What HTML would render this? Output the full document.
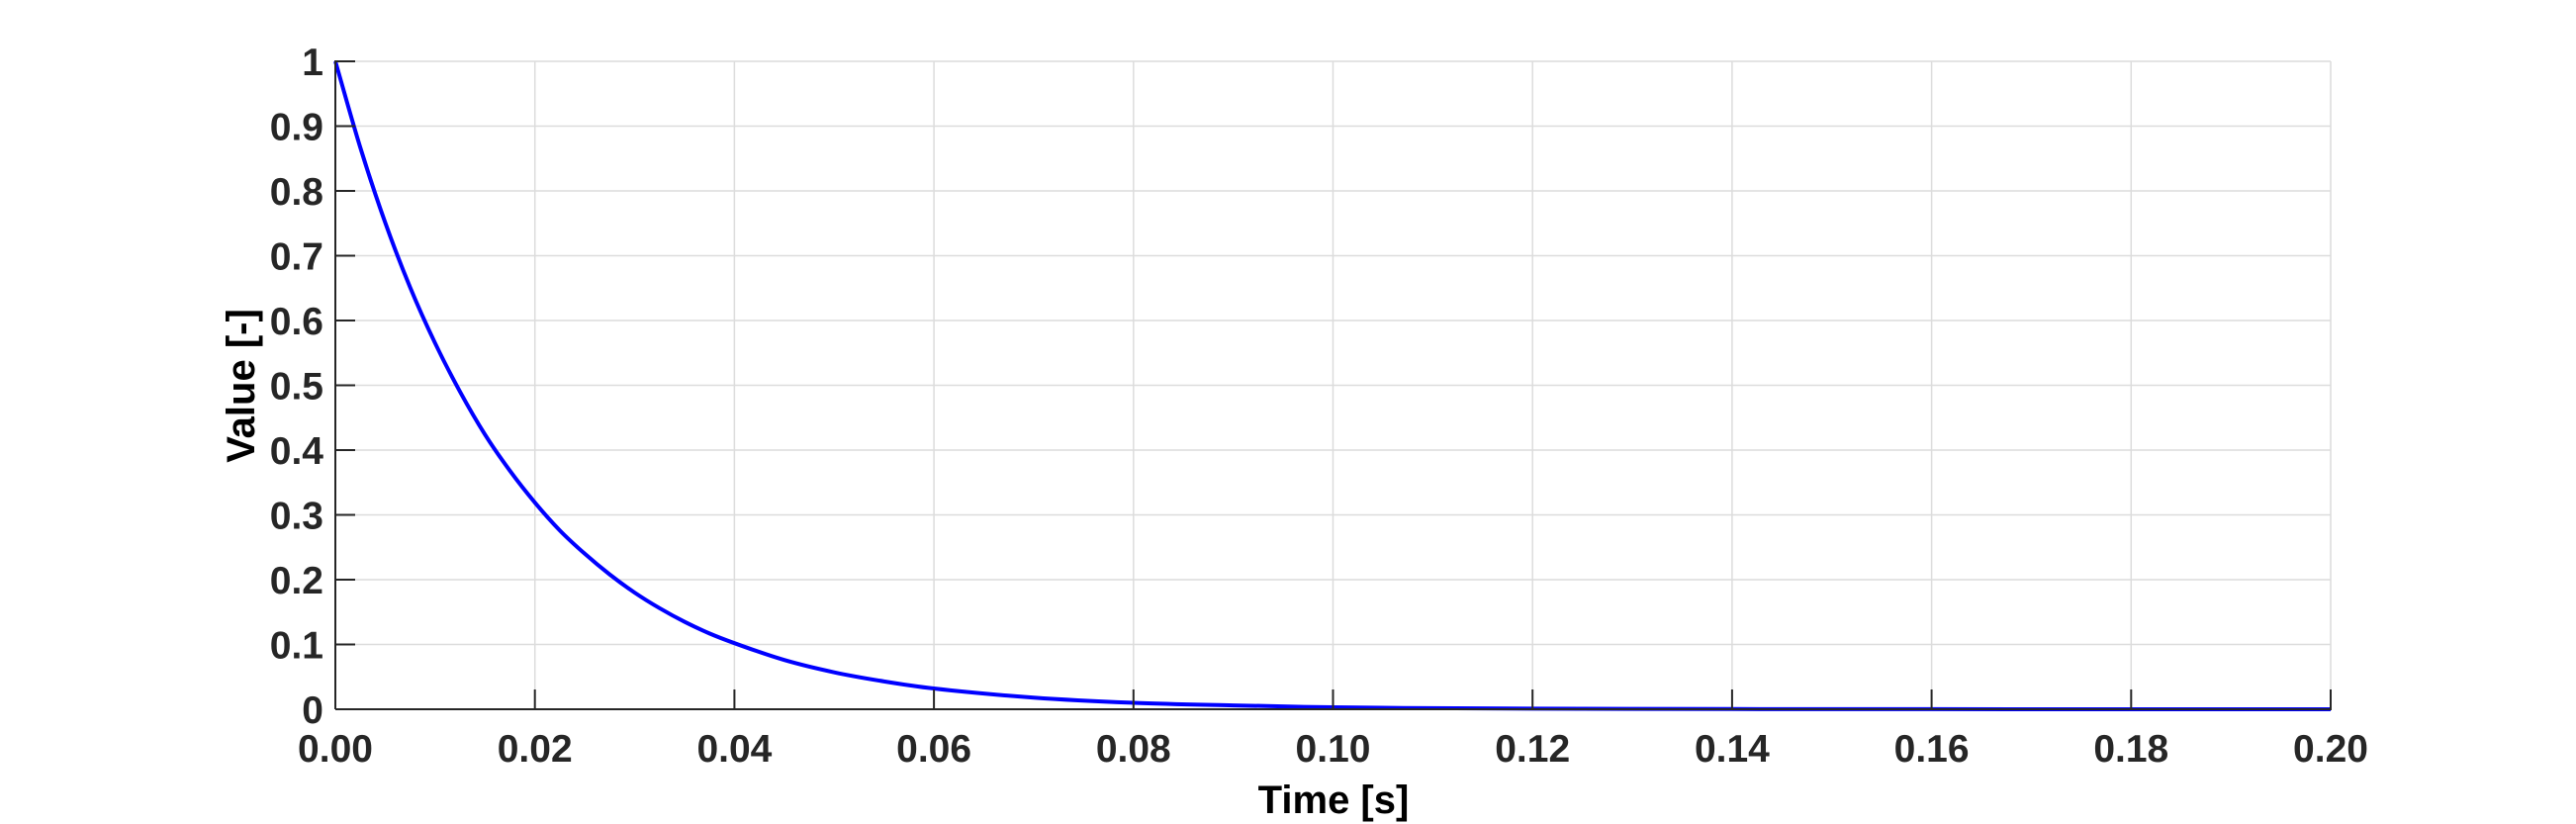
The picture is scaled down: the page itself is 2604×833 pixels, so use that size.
<!DOCTYPE html>
<html><head><meta charset="utf-8"><style>
html,body{margin:0;padding:0;background:#fff;}
svg{display:block;font-family:"Liberation Sans",Arial,sans-serif;}
</style></head><body>
<svg id="chart" width="2604" height="833" viewBox="0 0 2604 833" xmlns="http://www.w3.org/2000/svg"></svg>
<script>
const times=[0,0.0025,0.005,0.0075,0.01,0.0125,0.015,0.0175,0.02,0.0225,0.025,0.0275,0.03,0.0325,0.035,0.0375,0.04,0.045,0.05,0.055,0.06,0.07,0.08,0.09,0.10,0.12,0.14,0.16,0.18,0.20];
const values=[1,0.867,0.751,0.651,0.565,0.490,0.424,0.368,0.319,0.276,0.240,0.208,0.180,0.156,0.135,0.117,0.102,0.076,0.057,0.043,0.032,0.018,0.010,0.006,0.003,0.001,0.0003,0.0001,0,0];
const xTicks=[0,0.02,0.04,0.06,0.08,0.10,0.12,0.14,0.16,0.18,0.20];
const xTickLabels=["0.00","0.02","0.04","0.06","0.08","0.10","0.12","0.14","0.16","0.18","0.20"];
const yTicks=[0,0.1,0.2,0.3,0.4,0.5,0.6,0.7,0.8,0.9,1];
const yTickLabels=["0","0.1","0.2","0.3","0.4","0.5","0.6","0.7","0.8","0.9","1"];

const L=339,R=2356,T=62,B=717;
const xS=v=>L+(v-0)/(0.2-0)*(R-L);
const yS=v=>B-(v-0)/(1-0)*(B-T);
const NS="http://www.w3.org/2000/svg";
const svg=document.getElementById('chart');
function mk(tag,attrs,parent){const e=document.createElementNS(NS,tag);for(const k in attrs)e.setAttribute(k,attrs[k]);(parent||svg).appendChild(e);return e;}

const grid=mk('g',{});


xTicks.forEach(t=>{const l=mk('line',{x1:xS(t),x2:xS(t),y1:T,y2:B,stroke:'#dcdcdc','stroke-width':1.5},grid);

});
yTicks.forEach(t=>{const l=mk('line',{x1:L,x2:R,y1:yS(t),y2:yS(t),stroke:'#dcdcdc','stroke-width':1.5},grid);

});

// series: monotone cubic through data points
const px=times.map(xS), py=values.map(yS);
const n=px.length, m=[];
const sl=[];for(let i=0;i<n-1;i++)sl.push((py[i+1]-py[i])/(px[i+1]-px[i]));
m[0]=sl[0];m[n-1]=sl[n-2];
for(let i=1;i<n-1;i++){m[i]=(sl[i-1]*sl[i]<=0)?0:(sl[i-1]+sl[i])/2;}
let d='M'+px[0].toFixed(2)+' '+py[0].toFixed(2);
for(let i=0;i<n-1;i++){const h=(px[i+1]-px[i])/3;
d+=' C'+(px[i]+h).toFixed(2)+' '+(py[i]+m[i]*h).toFixed(2)+' '+(px[i+1]-h).toFixed(2)+' '+(py[i+1]-m[i+1]*h).toFixed(2)+' '+px[i+1].toFixed(2)+' '+py[i+1].toFixed(2);}
const path=mk('path',{d:d,fill:'none',stroke:'#0000ff','stroke-width':4,'stroke-linejoin':'round'});



// axes
const ax=mk('g',{stroke:'#262626','stroke-width':2});


mk('line',{x1:L,x2:R+1,y1:B,y2:B},ax);
mk('line',{x1:L,x2:L,y1:T-1,y2:B},ax);
xTicks.forEach(t=>mk('line',{x1:xS(t),x2:xS(t),y1:B,y2:B-20},ax));
yTicks.forEach(t=>mk('line',{x1:L,x2:L+20,y1:yS(t),y2:yS(t)},ax));

xTicks.forEach((t,i)=>{const e=mk('text',{x:xS(t),y:770,'text-anchor':'middle','font-size':39,'font-weight':'bold',fill:'#262626'});e.textContent=xTickLabels[i];

});
yTicks.forEach((t,i)=>{const e=mk('text',{x:327,y:yS(t)+14,'text-anchor':'end','font-size':39,'font-weight':'bold',fill:'#262626'});e.textContent=yTickLabels[i];

});

const xl=mk('text',{x:1348,y:822,'text-anchor':'middle','font-size':40,'font-weight':'bold',fill:'#000'});
xl.textContent='Time [s]';


const yl=mk('text',{x:0,y:0,'text-anchor':'middle','font-size':40,'font-weight':'bold',fill:'#000',transform:'translate(257,390) rotate(-90)'});
yl.textContent='Value [-]';


</script>
</body></html>
